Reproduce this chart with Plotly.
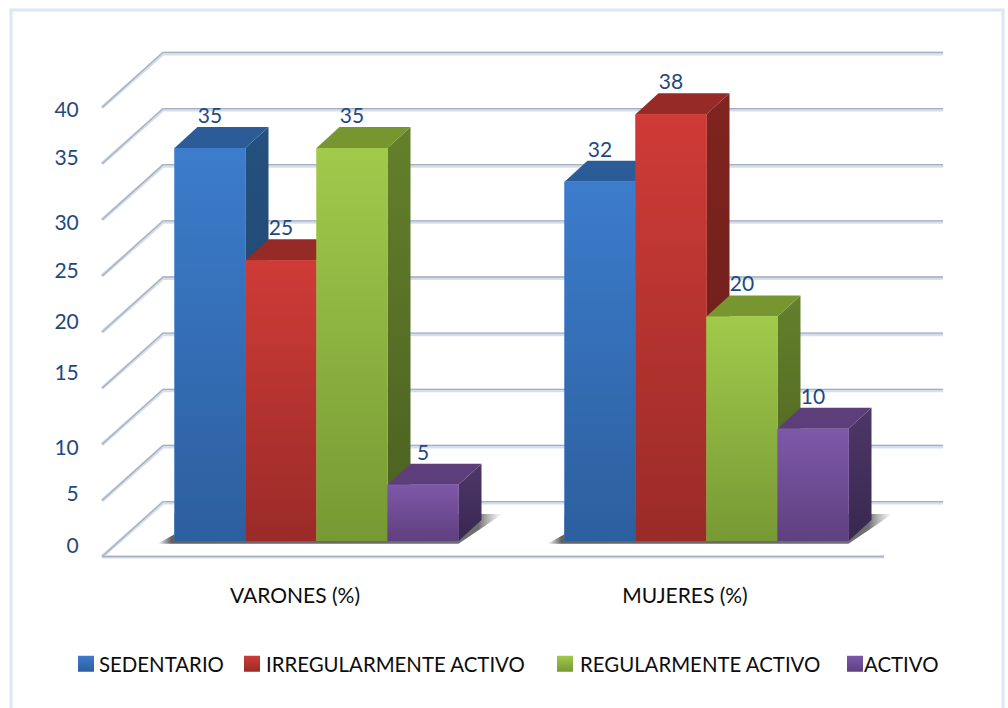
import plotly.graph_objects as go

# ---- data ----
categories = ["VARONES (%)", "MUJERES (%)"]
series_names = ["SEDENTARIO", "IRREGULARMENTE ACTIVO", "REGULARMENTE ACTIVO", "ACTIVO"]
sedentario = [35, 32]
irregular = [25, 38]
regular = [35, 20]
activo = [5, 10]
grid_values = [0, 5, 10, 15, 20, 25, 30, 35, 40]
y_tick_labels = ["0", "5", "10", "15", "20", "25", "30", "35", "40"]
# the picture's axis labels are unevenly placed relative to the gridlines
y_label_positions = [-0.45, 4.2, 8.35, 14.95, 19.5, 24.05, 28.35, 34.1, 38.45]

series_values = [sedentario, irregular, regular, activo]
front_colors = [("#3c7ccc", "#2c5f9e"), ("#cf3b37", "#9a2b28"), ("#a1ca4b", "#779934"), ("#7e58a9", "#5f4080")]
top_colors = ["#2b5c98", "#962a27", "#78962f", "#5d3e7b"]
side_colors = [("#25517f", "#1d4068"), ("#80241f", "#661c19"), ("#64802b", "#4a5f20"), ("#4e3769", "#38274f")]

# ---- geometry ----
W, H = 1008, 708
PX_PER_CAT = 390.0
PX_PER_UNIT = 11.23
X0_PX, Y0_PX = 295.0, 541.0          # pixel of x=0 / y=0
LEFT, RIGHT, TOP, BOTTOM = 85, 1000, 30, 574  # plot rectangle

BAR_W = 71 / PX_PER_CAT
BAR_SHIFT = 21.5 / PX_PER_CAT
DX = 23 / PX_PER_CAT                 # depth of a bar
DY = 21 / PX_PER_UNIT
WALL_X0 = (102 - X0_PX) / PX_PER_CAT
WALL_X1 = (163 - X0_PX) / PX_PER_CAT
WALL_X2 = (943 - X0_PX) / PX_PER_CAT
FLOOR_X2 = (884 - X0_PX) / PX_PER_CAT
FRONT_DROP = -1.4
BACK_LIFT = 3.4

fig = go.Figure()


def polygon(xs, ys, **kw):
    fig.add_trace(go.Scatter(x=xs, y=ys, fill="toself", mode="none",
                             hoverinfo="skip", showlegend=False, **kw))


# gridlines (walls and floor)
for layer, (col, width, nudge, z) in enumerate([("#d3dfee", 3.6, 0.0, -10), ("#a9afb8", 1.3, 0.11, -9)]):
    gx, gy = [], []
    for v in grid_values:
        gx += [WALL_X0, WALL_X1, WALL_X2, None]
        gy += [v + FRONT_DROP, v + BACK_LIFT + nudge, v + BACK_LIFT + nudge, None]
    gx += [WALL_X0, FLOOR_X2, None]
    gy += [FRONT_DROP, FRONT_DROP, None]
    fig.add_trace(go.Scatter(x=gx, y=gy, mode="lines", line=dict(color=col, width=width),
                             hoverinfo="skip", showlegend=False, zorder=z))

# floor shadow
for c in range(len(categories)):
    xl = c + BAR_SHIFT - 2 * BAR_W
    xr = c + BAR_SHIFT + 2 * BAR_W
    sx = [xl - 17 / PX_PER_CAT, xl, xl, xr + 44 / PX_PER_CAT, xr]
    sy = [-0.25, 0.6, 2.4, 2.4, -0.25]
    polygon(sx, sy, zorder=-5, fillgradient=dict(
        type="horizontal",
        colorscale=[[0, "rgba(90,90,90,0)"], [0.04, "rgba(90,90,90,0.95)"],
                    [0.93, "rgba(95,95,95,0.9)"], [1, "rgba(150,150,150,0)"]]))

# bars: side + top behind, front (real bar + gradient) over, painted left to right
for s, (name, vals) in enumerate(zip(series_names, series_values)):
    offset = BAR_SHIFT + (s - 2) * BAR_W
    for c, v in enumerate(vals):
        x1 = c + offset
        x2 = x1 + BAR_W
        polygon([x2, x2 + DX, x2 + DX, x2], [v, v + DY, DY, 0], zorder=2 * s,
                fillgradient=dict(type="vertical",
                                  colorscale=[[0, side_colors[s][1]], [1, side_colors[s][0]]]))
        polygon([x1, x2, x2 + DX, x1 + DX], [v, v, v + DY, v + DY], zorder=2 * s, fillcolor=top_colors[s])
    fig.add_trace(go.Bar(name=name, x=list(range(len(categories))), y=vals,
                         width=BAR_W, offset=offset, marker=dict(color=front_colors[s][0], line=dict(width=0)),
                         zorder=2 * s + 1, showlegend=False,
                         hovertemplate=name + ": %{y}<extra></extra>"))
    for c, v in enumerate(vals):
        x1 = c + offset
        x2 = x1 + BAR_W
        polygon([x1, x2, x2, x1], [0, 0, v, v], zorder=2 * s + 1,
                fillgradient=dict(type="vertical",
                                  colorscale=[[0, front_colors[s][1]], [1, front_colors[s][0]]]))

# data labels, above the back edge of each bar top
for s, vals in enumerate(series_values):
    offset = BAR_SHIFT + (s - 2) * BAR_W
    fig.add_trace(go.Scatter(
        x=[c + offset + BAR_W / 2 for c in range(len(vals))],
        y=[v + DY - 0.1 for v in vals], mode="text", text=[str(v) for v in vals],
        textposition="top center", textfont=dict(family="Lato", size=21, color="#1f497d"),
        hoverinfo="skip", showlegend=False, zorder=50))

# legend keys: one legend per entry so each sits where the reference has it
legend_ids = ["legend", "legend2", "legend3", "legend4"]
legend_left_px = [59, 226, 540, 824]
legend_symbol_shift_px = [7, 6, 5, 11]   # keys sit closer to their text than Plotly's fixed gap
for s, name in enumerate(series_names):
    fig.add_trace(go.Scatter(
        name=name, x=[None], y=[None], mode="markers", legend=legend_ids[s],
        marker=dict(symbol="square", size=16, color=front_colors[s][0],
                    gradient=dict(type="vertical", color=front_colors[s][1]), line=dict(width=0))))

layout_legends = {}
for s, lid in enumerate(legend_ids):
    layout_legends[lid] = dict(
        x=legend_left_px[s] / W, xanchor="left", y=1 - 664 / H, yanchor="middle",
        bgcolor="rgba(0,0,0,0)", borderwidth=0,
        font=dict(family="Lato", size=20.4, color="#0d0d0d"), itemclick=False, itemdoubleclick=False)

fig.update_layout(
    width=W, height=H, margin=dict(l=0, r=0, t=0, b=0),
    paper_bgcolor="white", plot_bgcolor="rgba(0,0,0,0)", barmode="overlay",
    hovermode="closest",
    xaxis=dict(domain=[LEFT / W, RIGHT / W],
               range=[(LEFT - X0_PX) / PX_PER_CAT, (RIGHT - X0_PX) / PX_PER_CAT],
               tickmode="array", tickvals=[0, 1], ticktext=categories,
               showgrid=False, zeroline=False, showline=False,
               ticks="outside", ticklen=3, tickcolor="rgba(0,0,0,0)",
               tickfont=dict(family="Lato", size=21, color="#0d0d0d")),
    yaxis=dict(domain=[1 - BOTTOM / H, 1 - TOP / H],
               range=[(Y0_PX - BOTTOM) / PX_PER_UNIT, (Y0_PX - TOP) / PX_PER_UNIT],
               tickmode="array", tickvals=y_label_positions, ticktext=y_tick_labels,
               showgrid=False, zeroline=False, showline=False,
               ticks="outside", ticklen=1, tickcolor="rgba(0,0,0,0)",
               tickfont=dict(family="Lato", size=21, color="#1f497d")),
    shapes=[dict(type="rect", xref="paper", yref="paper", layer="below",
                 x0=11 / W, x1=1003 / W, y0=-0.02, y1=1 - 10 / H,
                 line=dict(color="#dce6f4", width=3), fillcolor="white")],
    **layout_legends,
)

post = (
    "document.body.style.margin='0';document.body.style.overflow='hidden';"
    "var shifts=" + str(legend_symbol_shift_px) + ";"
    "['legend','legend2','legend3','legend4'].forEach(function(c,i){"
    "var g=document.querySelector('g.'+c+' .legendsymbols');"
    "if(g){g.setAttribute('transform','translate('+shifts[i]+',0)');}});"
)
fig.write_html("out.html", config=dict(displayModeBar=False), post_script=post)
